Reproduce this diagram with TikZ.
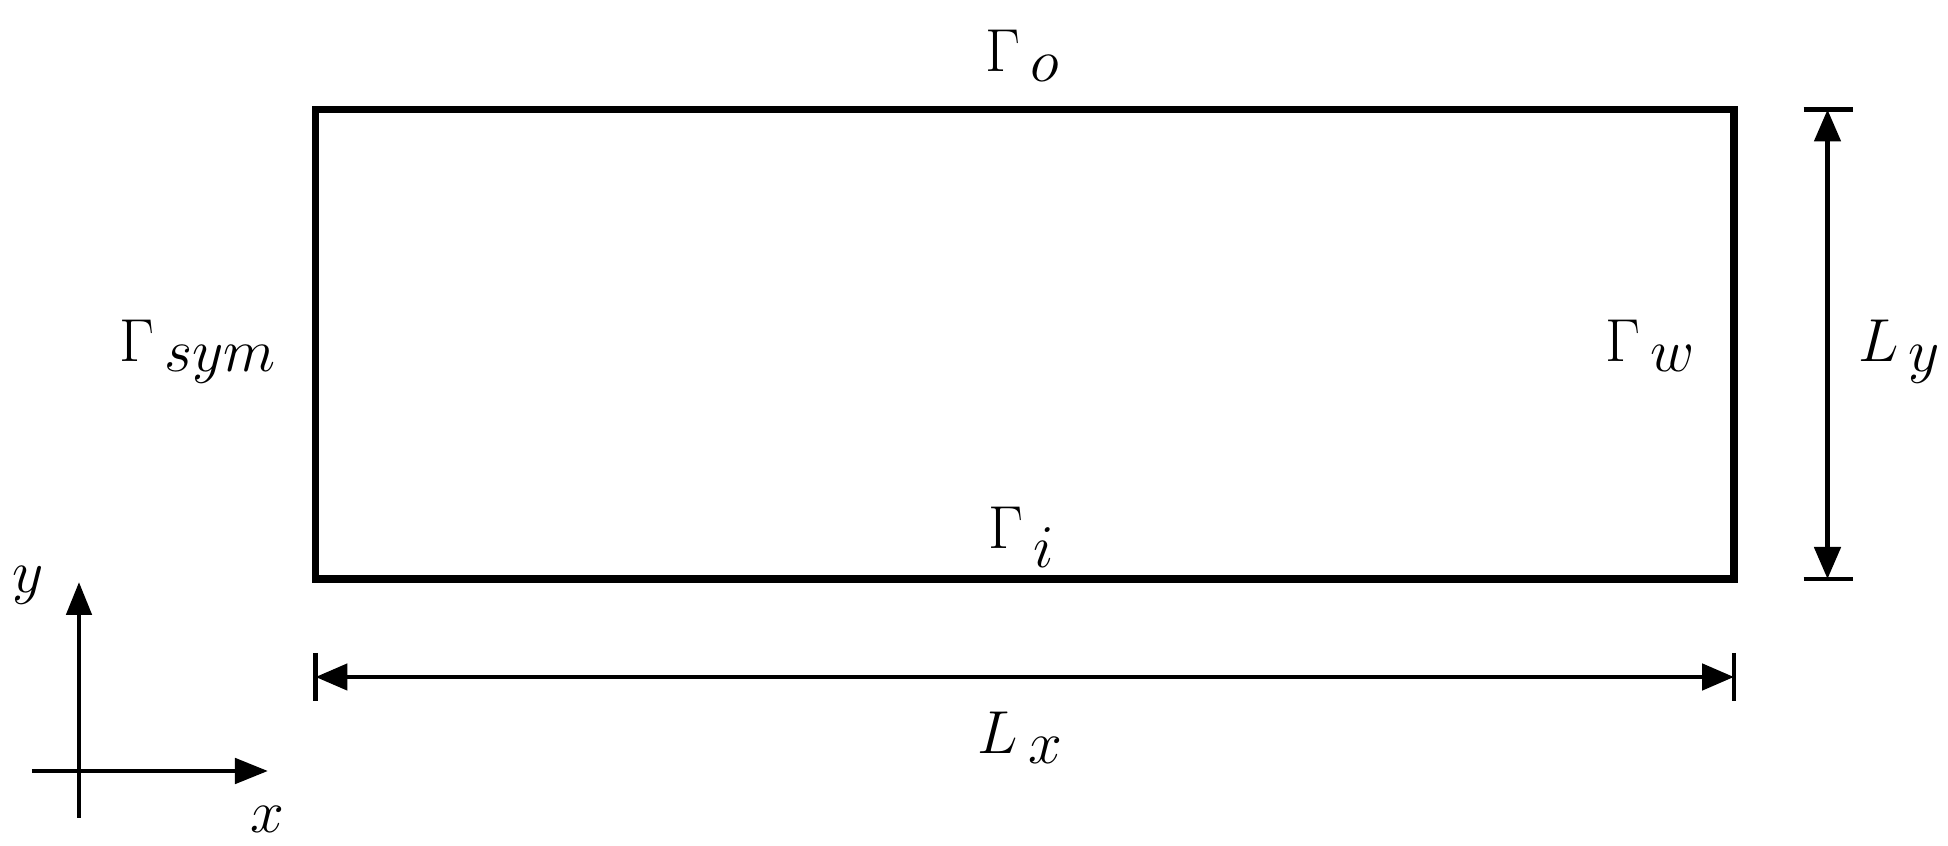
\documentclass[tikz,border=0pt]{standalone}
\usepackage{amsmath}
\usetikzlibrary{arrows.meta}
\DeclareMathSizes{19}{19}{16}{12}

\begin{document}
\begin{tikzpicture}
    \tikzstyle{boundary} = [line width=2pt]
    \tikzstyle{dimline} = [line width=1.4pt, {Triangle[length=3.2mm,width=2.6mm]}-{Triangle[length=3.2mm,width=2.6mm]}]
    \tikzstyle{dimtick} = [line width=1.4pt]
    \tikzstyle{axis} = [line width=1.4pt, -{Triangle[length=3.3mm,width=2.5mm]}]
    \tikzstyle{bclabel} = [font=\fontsize{19}{23}\selectfont, inner sep=0pt, anchor=base]

    \useasboundingbox (-3.155,-2.67) rectangle (16.325,5.79);

    % Domain
    \coordinate (sw) at (0,0);
    \coordinate (ne) at (14.185,4.695);
    \draw [boundary] (sw) rectangle (ne);

    % Boundary names
    \node [bclabel] (gout) at (7.075,5.07) {$\Gamma_{\mkern3mu o}$};
    \node [bclabel] (gin) at (7.065,0.30) {$\Gamma_{\mkern3mu i}$};
    \node [bclabel] (gsym) at (-1.17,2.17) {$\Gamma_{\mkern3mu sym}$};
    \node [bclabel] (gwall) at (13.35,2.17) {$\Gamma_{\mkern3mu w}$};

    % Dimensions
    \coordinate (lxa) at (0,-0.98);
    \coordinate (lxb) at (14.185,-0.98);
    \draw [dimtick] (0,-0.74) -- (0,-1.22);
    \draw [dimtick] (14.185,-0.74) -- (14.185,-1.22);
    \draw [dimline] (lxa) -- (lxb);
    \node [bclabel] (lx) at (7.055,-1.75) {$L_{\mkern3mu x}$};

    \coordinate (lya) at (15.12,0);
    \coordinate (lyb) at (15.12,4.695);
    \draw [dimtick] (14.88,0) -- (15.37,0);
    \draw [dimtick] (14.88,4.695) -- (15.37,4.695);
    \draw [dimline] (lya) -- (lyb);
    \node [bclabel] (ly) at (15.845,2.17) {$L_{\mkern3mu y}$};

    % Axes
    \coordinate (xa) at (-2.835,-1.92);
    \coordinate (xb) at (-0.475,-1.92);
    \coordinate (ya) at (-2.365,-2.39);
    \coordinate (yb) at (-2.365,-0.03);
    \draw [axis] (xa) -- (xb);
    \draw [axis] (ya) -- (yb);
    \node [bclabel] (xlab) at (-0.48,-2.54) {$x$};
    \node [bclabel] (ylab) at (-2.87,-0.14) {$y$};
\end{tikzpicture}
\end{document}
